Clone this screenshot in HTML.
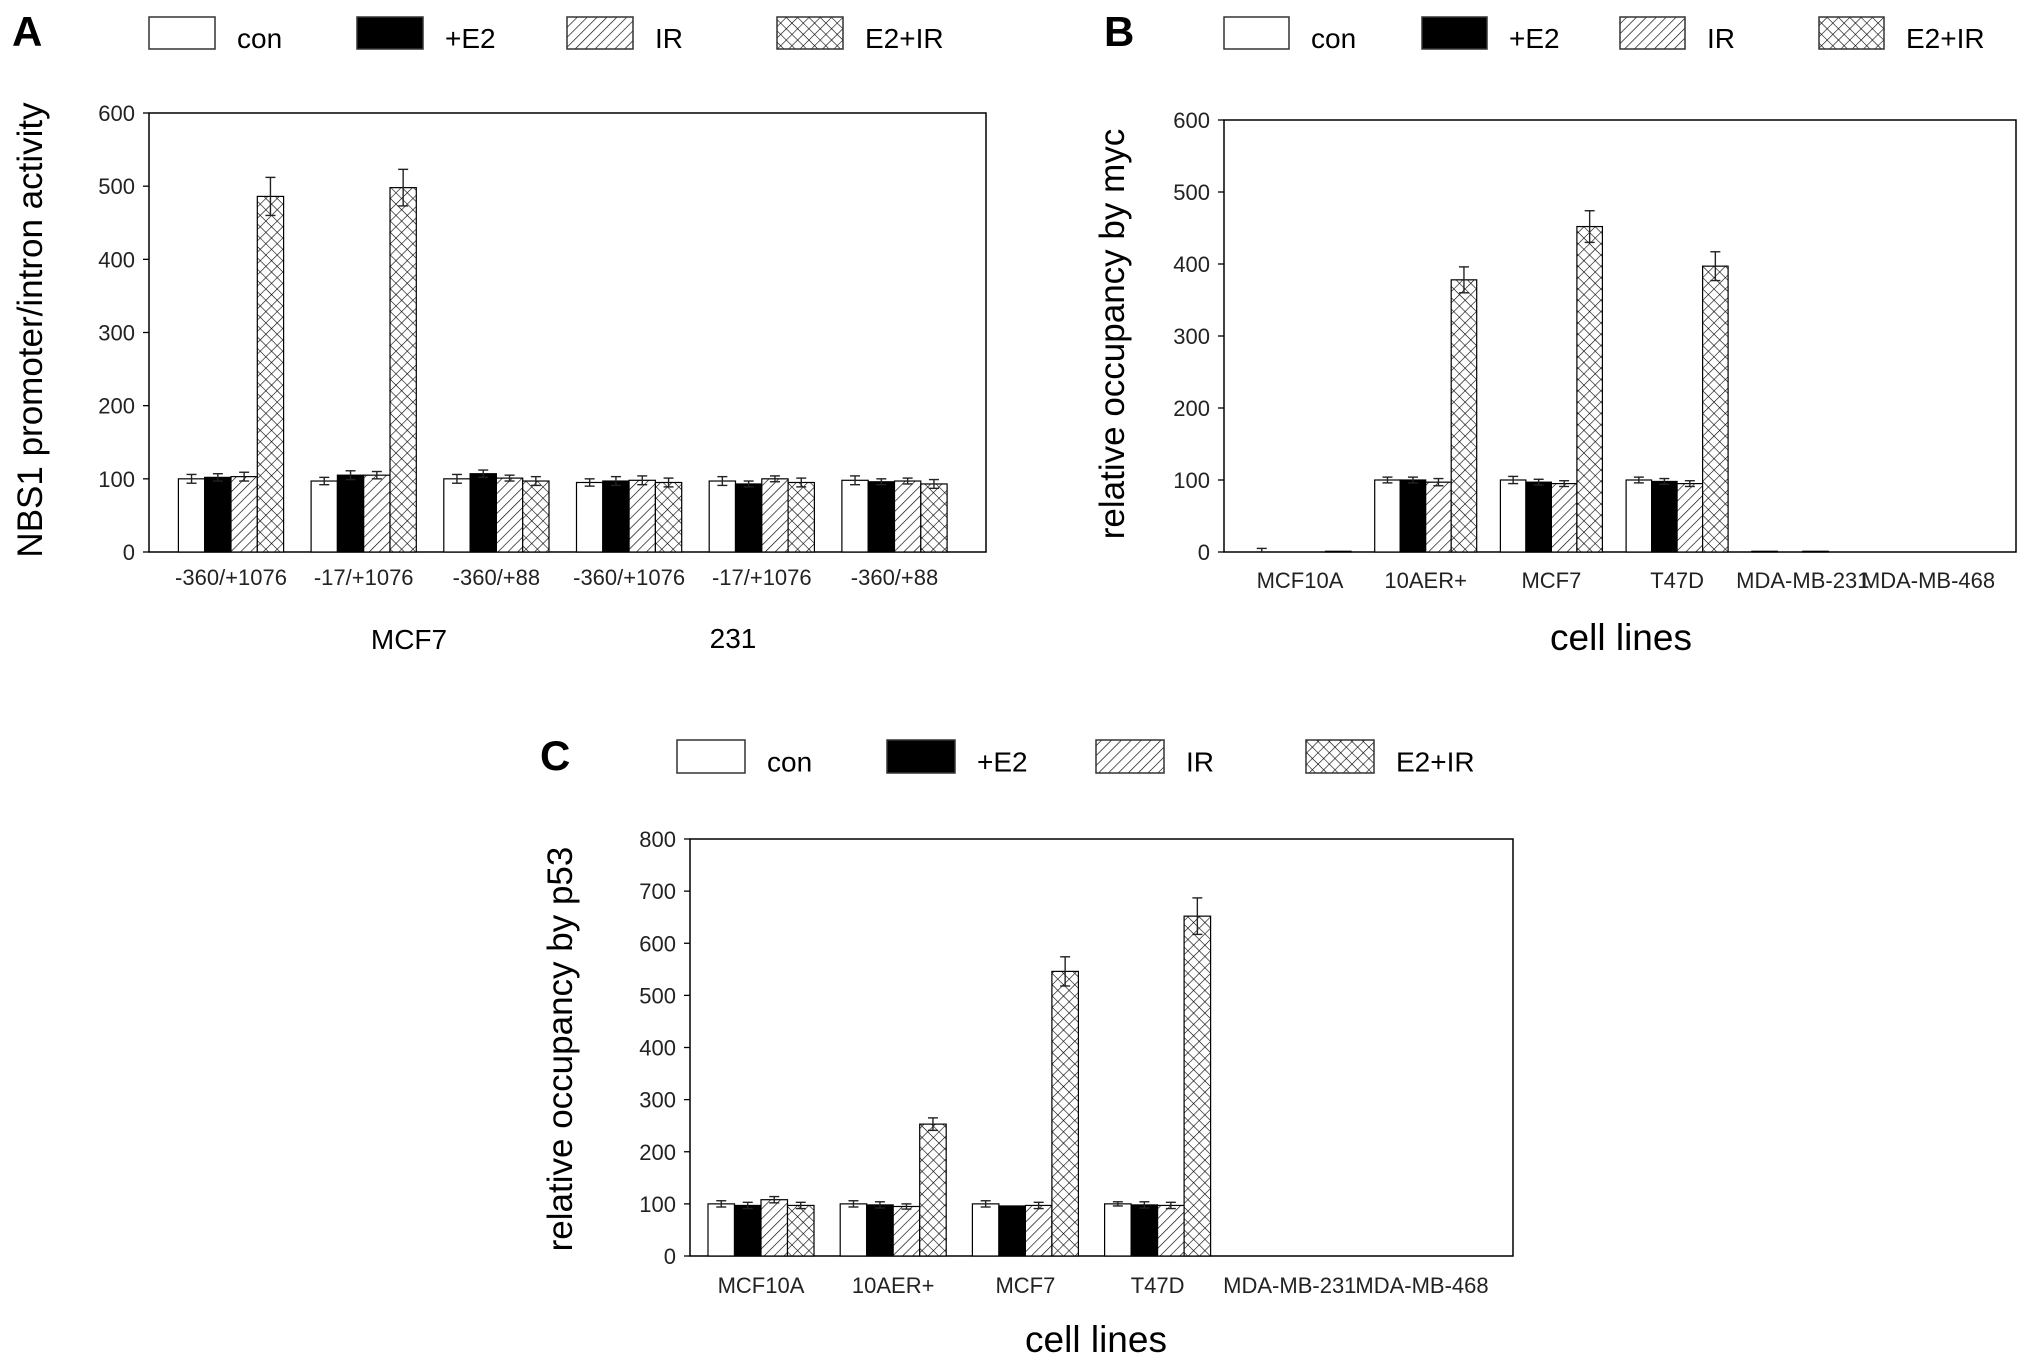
<!DOCTYPE html>
<html><head><meta charset="utf-8">
<style>
html,body{margin:0;padding:0;background:#fff;}
svg{display:block;font-family:"Liberation Sans",Arial,sans-serif;}
</style></head>
<body>
<svg id="fig" width="2031" height="1364" viewBox="0 0 2031 1364" xmlns="http://www.w3.org/2000/svg">
<defs>
<pattern id="hatch" patternUnits="userSpaceOnUse" width="7" height="7" patternTransform="rotate(45)">
<rect width="7" height="7" fill="#fff"/><line x1="0" y1="0" x2="0" y2="7" stroke="#000" stroke-width="1.3"/>
</pattern>
<pattern id="cross" patternUnits="userSpaceOnUse" width="8" height="8" patternTransform="rotate(45)">
<rect width="8" height="8" fill="#fff"/><line x1="0" y1="0" x2="0" y2="8" stroke="#000" stroke-width="1.2"/><line x1="0" y1="0" x2="8" y2="0" stroke="#000" stroke-width="1.2"/>
</pattern>
</defs>
</svg>
<script>
// ---- data ----
const seriesNames = ["con", "+E2", "IR", "E2+IR"];
const seriesFills = ["#fff", "#000", "url(#hatch)", "url(#cross)"];

const catsA = ["-360/+1076", "-17/+1076", "-360/+88", "-360/+1076", "-17/+1076", "-360/+88"];
const conA = [100, 97, 100, 95, 97, 98];
const e2A = [102, 105, 107, 97, 93, 96];
const irA = [103, 105, 101, 98, 100, 97];
const e2irA = [486, 498, 97, 95, 95, 93];
const errConA = [6, 5, 6, 5, 6, 6];
const errE2A = [5, 6, 5, 6, 4, 4];
const errIrA = [6, 5, 4, 6, 4, 4];
const errE2irA = [26, 25, 6, 6, 6, 6];
const ticksA = [0, 100, 200, 300, 400, 500, 600];

const catsB = ["MCF10A", "10AER+", "MCF7", "T47D", "MDA-MB-231", "MDA-MB-468"];
const conB = [0, 100, 100, 100, 1, 0];
const e2B = [0, 100, 97, 98, 0, 0];
const irB = [0, 97, 95, 95, 1, 0];
const e2irB = [1, 378, 452, 397, 0, 0];
const errConB = [5, 4, 5, 4, 0, 0];
const errE2B = [0, 4, 4, 4, 0, 0];
const errIrB = [0, 5, 4, 4, 0, 0];
const errE2irB = [0, 18, 22, 20, 0, 0];
const ticksB = [0, 100, 200, 300, 400, 500, 600];

const catsC = ["MCF10A", "10AER+", "MCF7", "T47D", "MDA-MB-231", "MDA-MB-468"];
const conC = [100, 100, 100, 100, 0, 0];
const e2C = [97, 98, 96, 98, 0, 0];
const irC = [108, 95, 97, 97, 0, 0];
const e2irC = [97, 253, 546, 652, 0, 0];
const errConC = [6, 6, 6, 4, 0, 0];
const errE2C = [6, 6, 0, 6, 0, 0];
const errIrC = [6, 5, 6, 6, 0, 0];
const errE2irC = [6, 12, 28, 35, 0, 0];
const ticksC = [0, 100, 200, 300, 400, 500, 600, 700, 800];

const NS = "http://www.w3.org/2000/svg";
const svg = document.getElementById("fig");
function mk(tag, attrs, parent) {
  const e = document.createElementNS(NS, tag);
  for (const k in attrs) e.setAttribute(k, attrs[k]);
  (parent || svg).appendChild(e);
  return e;
}

function panel(p) {
  const g = mk("g", {});
  
  
  const ymax = p.ticks[p.ticks.length - 1];
  const y = v => p.bottom - (v / ymax) * (p.bottom - p.top);
  const xc = i => p.c0 + i * p.step;

  const L = mk("text", {x: p.letterX, y: p.letterY, "font-size": 42, "font-weight": "bold"}, g);
  L.textContent = p.id;
  
  

  seriesNames.forEach((n, s) => {
    const r = mk("rect", {x: p.legX[s], y: p.legY, width: p.legW, height: p.legH, fill: seriesFills[s], stroke: "#333", "stroke-width": 1.5}, g);
    
    
    const t = mk("text", {x: p.legX[s] + p.legW + 22, y: p.legY + p.legH / 2 + 15, "font-size": 28}, g);
    t.textContent = n;
    
    
  });

  const f = mk("rect", {x: p.left, y: p.top, width: p.right - p.left, height: p.bottom - p.top, fill: "none", stroke: "#000", "stroke-width": 1.5}, g);
  
  

  p.ticks.forEach(t => {
    mk("line", {x1: p.left - 6, x2: p.left, y1: y(t), y2: y(t), stroke: "#000", "stroke-width": 1.3}, g);
    const tx = mk("text", {x: p.left - 14, y: y(t) + 8, "font-size": 22, "text-anchor": "end", fill: "#222"}, g);
    tx.textContent = t;
    
    
  });

  const n = seriesNames.length;
  p.vals.forEach((arr, s) => {
    arr.forEach((v, i) => {
      const bx = xc(i) - n * p.bw / 2 + s * p.bw;
      if (v > 0) {
        const r = mk("rect", {x: bx, y: y(v), width: p.bw, height: p.bottom - y(v), fill: seriesFills[s], stroke: "#000", "stroke-width": 1.2}, g);
        
        
      }
      const e = p.errs[s][i];
      if (e > 0) {
        const cx = bx + p.bw / 2;
        mk("line", {x1: cx, x2: cx, y1: y(v + e), y2: y(Math.max(v - e, 0)), stroke: "#222", "stroke-width": 1.4}, g);
        mk("line", {x1: cx - 5, x2: cx + 5, y1: y(v + e), y2: y(v + e), stroke: "#222", "stroke-width": 1.4}, g);
        if (v - e > 0) mk("line", {x1: cx - 5, x2: cx + 5, y1: y(v - e), y2: y(v - e), stroke: "#222", "stroke-width": 1.4}, g);
      }
    });
  });

  p.cats.forEach((c, i) => {
    const t = mk("text", {x: xc(i), y: p.catY, "font-size": 22, "text-anchor": "middle", fill: "#222"}, g);
    t.textContent = c;
    
    
  });

  const yt = mk("text", {x: 0, y: 0, "font-size": 35, "text-anchor": "middle", transform: `translate(${p.ytX},${p.ytY}) rotate(-90)`}, g);
  yt.textContent = p.ytitle;
  
  

  (p.xtitles || []).forEach(xt => {
    const t = mk("text", {x: xt.x, y: xt.y, "font-size": xt.size, "text-anchor": "middle"}, g);
    t.textContent = xt.text;
    
    
  });
}

panel({id: "A", letterX: 12, letterY: 46, legX: [149, 357, 567, 777], legY: 17, legW: 66, legH: 32,
  left: 149, right: 986, top: 113, bottom: 552, c0: 231, step: 132.7, bw: 26.3,
  ticks: ticksA, cats: catsA, catY: 585,
  vals: [conA, e2A, irA, e2irA], errs: [errConA, errE2A, errIrA, errE2irA],
  ytitle: "NBS1 promoter/intron activity", ytX: 42, ytY: 330,
  xtitles: [{text: "MCF7", x: 409, y: 649, size: 28}, {text: "231", x: 733, y: 648, size: 28}]});

panel({id: "B", letterX: 1104, letterY: 46, legX: [1224, 1422, 1620, 1819], legY: 17, legW: 65, legH: 32,
  left: 1224, right: 2016, top: 120, bottom: 552, c0: 1300, step: 125.7, bw: 25.5,
  ticks: ticksB, cats: catsB, catY: 588,
  vals: [conB, e2B, irB, e2irB], errs: [errConB, errE2B, errIrB, errE2irB],
  ytitle: "relative occupancy by myc", ytX: 1124, ytY: 334,
  xtitles: [{text: "cell lines", x: 1621, y: 650, size: 37}]});

panel({id: "C", letterX: 540, letterY: 770, legX: [677, 887, 1096, 1306], legY: 740, legW: 68, legH: 33,
  left: 690, right: 1513, top: 839, bottom: 1256, c0: 761, step: 132.2, bw: 26.5,
  ticks: ticksC, cats: catsC, catY: 1293,
  vals: [conC, e2C, irC, e2irC], errs: [errConC, errE2C, errIrC, errE2irC],
  ytitle: "relative occupancy by p53", ytX: 572, ytY: 1049,
  xtitles: [{text: "cell lines", x: 1096, y: 1352, size: 37}]});
</script>
</body></html>
